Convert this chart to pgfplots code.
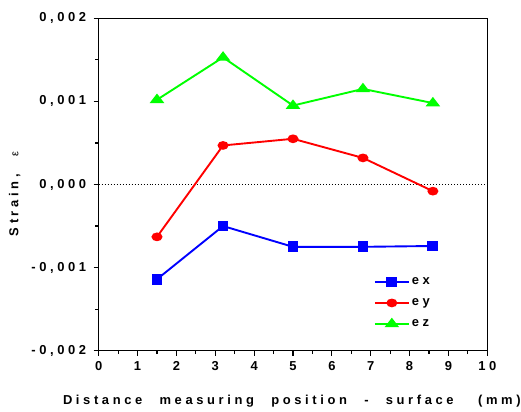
\documentclass[border=0pt]{standalone}
\usepackage{fontspec}
\setmainfont{Liberation Sans}[LetterSpace=28]
\usepackage{pgfplots}
\pgfplotsset{compat=1.18}
\definecolor{cblue}{RGB}{0,0,255}
\definecolor{cred}{RGB}{255,0,0}
\definecolor{cgreen}{RGB}{0,255,0}
\newcommand{\ws}{\hspace{10bp}}
\begin{document}
\begin{tikzpicture}
\begin{axis}[
  at={(0,0)}, anchor=south west,
  width=388.6bp, height=332.4bp, scale only axis,
  xmin=0, xmax=10, ymin=-0.002, ymax=0.002,
  xtick={0,1,...,10}, minor x tick num=1,
  ytick={-0.002,-0.001,0,0.001,0.002},
  yticklabels={{-0,002},{-0,001},{0,000},{0,001},{0,002}},
  xticklabels={0,1,2,3,4,5,6,7,8,9,10},
  scaled y ticks=false,
  minor y tick num=1,
  tick align=outside, xtick pos=bottom, ytick pos=left,
  major tick length=5bp, minor tick length=3.5bp,
  tick style={black, line width=1.2pt},
  axis line style={line width=1.2pt},
  tick label style={font=\bfseries\fontsize{13}{15}\selectfont},
  yticklabel style={xshift=-4bp},
  xticklabel style={yshift=-2bp},
  xlabel={Distance \ws measuring \ws position \ws - \ws surface \ws\ (mm)},
  ylabel={Strain, \ws {\mdseries\fontsize{11}{13}\selectfont ε}},
  label style={font=\bfseries\fontsize{13}{15}\selectfont},
  xlabel style={at={(axis description cs:0.497,-0.1625)}, anchor=base},
  ylabel style={at={(axis description cs:-0.216,0.471)}, anchor=center},
  legend style={at={(axis description cs:0.70,0.232)}, anchor=north west,
    draw=none, fill=none, font=\bfseries\fontsize{13}{15}\selectfont,
    row sep=8.5bp},
  legend cell align=left,
  legend image code/.code={
    \draw[mark repeat=2,mark phase=2,#1,line width=1.9pt] plot coordinates {(0bp,0bp) (17bp,0bp) (34bp,0bp)};
  },
]
\addplot[black, line width=0.7pt, dash pattern=on 1pt off 2pt, forget plot] coordinates {(0,0) (10,0)};
\addplot[cblue, line width=1.9pt, mark=square*, mark size=4.5bp, mark options={solid}]
  coordinates {(1.5,-0.00114) (3.2,-0.00050) (5,-0.00075) (6.8,-0.00075) (8.6,-0.00074)};
\addlegendentry{ex}
\addplot[cred, line width=1.9pt, mark=*, mark size=4.5bp, mark options={solid, yscale=0.75}]
  coordinates {(1.5,-0.00063) (3.2,0.00047) (5,0.00055) (6.8,0.00032) (8.6,-0.00008)};
\addlegendentry{ey}
\addplot[cgreen, line width=1.9pt, mark=triangle*, mark size=6.2bp, mark options={solid, yscale=0.75}]
  coordinates {(1.5,0.00102) (3.2,0.00153) (5,0.00095) (6.8,0.00115) (8.6,0.00098)};
\addlegendentry{ez}
\end{axis}
\pgfresetboundingbox
\path (-98.7bp,-61.3bp) rectangle (422.3bp,350.7bp);
\end{tikzpicture}
\end{document}
